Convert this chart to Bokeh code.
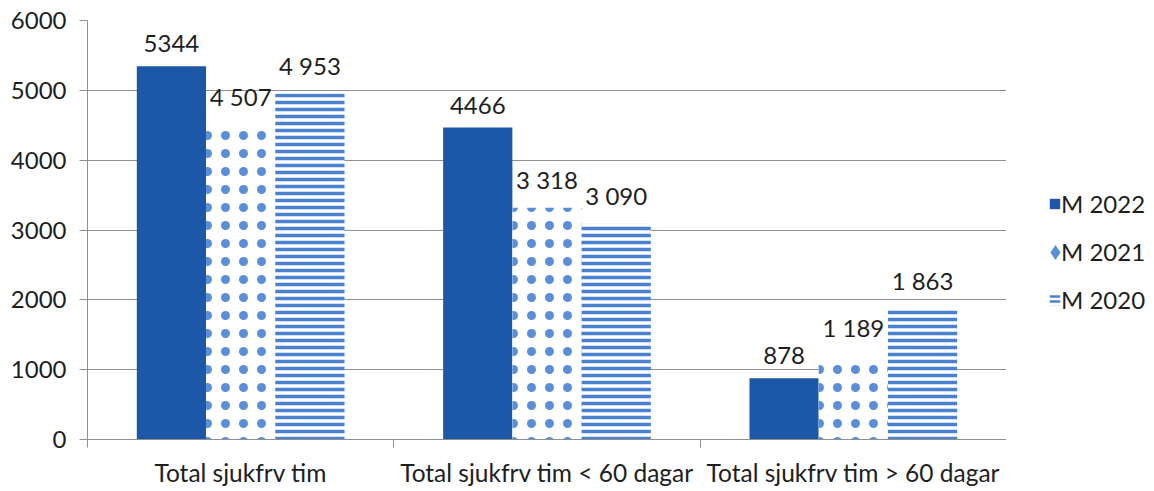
from bokeh.plotting import figure
from bokeh.models import (ColumnDataSource, Range1d, FixedTicker, LabelSet, Legend,
                          LegendItem, CustomJSTickFormatter)
from bokeh.layouts import row
from bokeh.transform import dodge
from bokeh.core.properties import value
from bokeh.embed import file_html
from bokeh.resources import INLINE

categories = ["Total sjukfrv tim", "Total sjukfrv tim < 60 dagar", "Total sjukfrv tim > 60 dagar"]
series = ["M 2022", "M 2021", "M 2020"]
m2022 = [5344, 4466, 878]
m2021 = [4507, 3318, 1189]
m2020 = [4953, 3090, 1863]
labels_2022 = ["5344", "4466", "878"]
labels_2021 = ["4 507", "3 318", "1 189"]
labels_2020 = ["4 953", "3 090", "1 863"]
y_ticks = [0, 1000, 2000, 3000, 4000, 5000, 6000]

FONT = "Lato"
TXT = "#1e1e1e"
GRID = "#8f8f8f"
C_SOLID = "#1d57a7"
C_DIAM = "#5a8ed6"
C_STRIPE = "#4a82d0"

xpos = [i + 0.5 for i in range(len(categories))]

p = figure(width=1006, height=491, output_backend="svg", toolbar_location=None,
           x_range=Range1d(0, len(categories)), y_range=Range1d(0, 6000),
           min_border_left=87, min_border_right=0, min_border_top=20, min_border_bottom=52)
p.outline_line_color = None
p.background_fill_color = "white"
p.border_fill_color = "white"

bw = 0.226
offs = [-bw, 0.0, bw]
vals = [m2022, m2021, m2020]
labs = [labels_2022, labels_2021, labels_2020]
styles = [dict(fill_color=C_SOLID),
          dict(fill_color="white", hatch_pattern="dot", hatch_color=C_DIAM,
               hatch_scale=18, hatch_weight=15),
          dict(fill_color="white", hatch_pattern="horizontal_line", hatch_color=C_STRIPE,
               hatch_scale=7, hatch_weight=3.5)]
for k in range(3):
    src = ColumnDataSource(dict(x=xpos, value=vals[k], label=labs[k]))
    xs = dodge("x", offs[k], range=p.x_range)
    p.vbar(x=xs, top="value", bottom=0, width=bw, source=src, line_color=None, **styles[k])
    ls = LabelSet(x=xs, y="value", text="label", source=src, y_offset=14,
                  text_align="center", text_baseline="bottom",
                  text_font=value(FONT), text_font_size="24px", text_color=TXT)
    p.add_layout(ls)

# y axis
ya = p.yaxis[0]
ya.ticker = FixedTicker(ticks=y_ticks)
ya.axis_line_color = GRID
ya.major_tick_line_color = GRID
ya.major_tick_out = 8
ya.major_tick_in = 0
ya.minor_tick_line_color = None
ya.major_label_standoff = 13
ya.major_label_text_font = FONT
ya.major_label_text_font_size = "24px"
ya.major_label_text_color = TXT

# x axis
xa = p.xaxis[0]
xa.ticker = FixedTicker(ticks=xpos, minor_ticks=[float(i) for i in range(len(categories) + 1)])
xa.formatter = CustomJSTickFormatter(args=dict(cats=categories), code="return cats[Math.floor(tick)];")
xa.axis_line_color = GRID
xa.major_tick_line_color = None
xa.major_tick_out = 0
xa.major_tick_in = 0
xa.minor_tick_line_color = GRID
xa.minor_tick_out = 8
xa.minor_tick_in = 0
xa.major_label_standoff = 10
xa.major_label_text_font = FONT
xa.major_label_text_font_size = "24.5px"
xa.major_label_text_color = TXT

p.xgrid.grid_line_color = None
p.ygrid.grid_line_color = GRID
p.ygrid.grid_line_width = 1

# legend panel
lp = figure(width=148, height=491, output_backend="svg", toolbar_location=None,
            x_range=Range1d(0, 1), y_range=Range1d(0, 1),
            min_border_left=0, min_border_right=0, min_border_top=0, min_border_bottom=0)
lp.axis.visible = False
lp.grid.visible = False
lp.outline_line_color = None
lp.border_fill_color = "white"
off = dict(x=[-5], top=[-5], bottom=[-6], width=0.1)
g0 = lp.vbar(**off, line_color=None, fill_color=C_SOLID)
g1_blank = lp.vbar(**off, line_color=None, fill_alpha=0)
g1 = lp.scatter(x=[-5], y=[-5], marker="diamond", fill_color=C_DIAM, line_color=None)
g2 = lp.vbar(**off, line_color=None, fill_color="white", hatch_pattern="horizontal_line",
             hatch_color=C_STRIPE, hatch_scale=5, hatch_weight=2.5)

common = dict(orientation="vertical", padding=0, margin=0, border_line_color=None,
              background_fill_alpha=0, label_height=28,
              label_text_font=FONT, label_text_font_size="24px", label_text_color=TXT)
lg0 = Legend(items=[LegendItem(label=series[0], renderers=[g0])], location=(42, 221),
             glyph_width=13, glyph_height=13, label_standoff=0, **common)
lg1 = Legend(items=[LegendItem(label=series[1], renderers=[g1_blank])], location=(42, 173),
             glyph_width=13, glyph_height=13, label_standoff=0, **common)
lg1g = Legend(items=[LegendItem(label=" ", renderers=[g1])], location=(30, 168),
              glyph_width=38, glyph_height=38, label_standoff=0, **common)
lg2 = Legend(items=[LegendItem(label=series[2], renderers=[g2])], location=(42, 125),
             glyph_width=13, glyph_height=13, label_standoff=0, **common)
for lg in (lg0, lg1, lg1g, lg2):
    lp.add_layout(lg)

layout = row(p, lp, spacing=0)
open("out.html", "w").write(file_html(layout, INLINE))
